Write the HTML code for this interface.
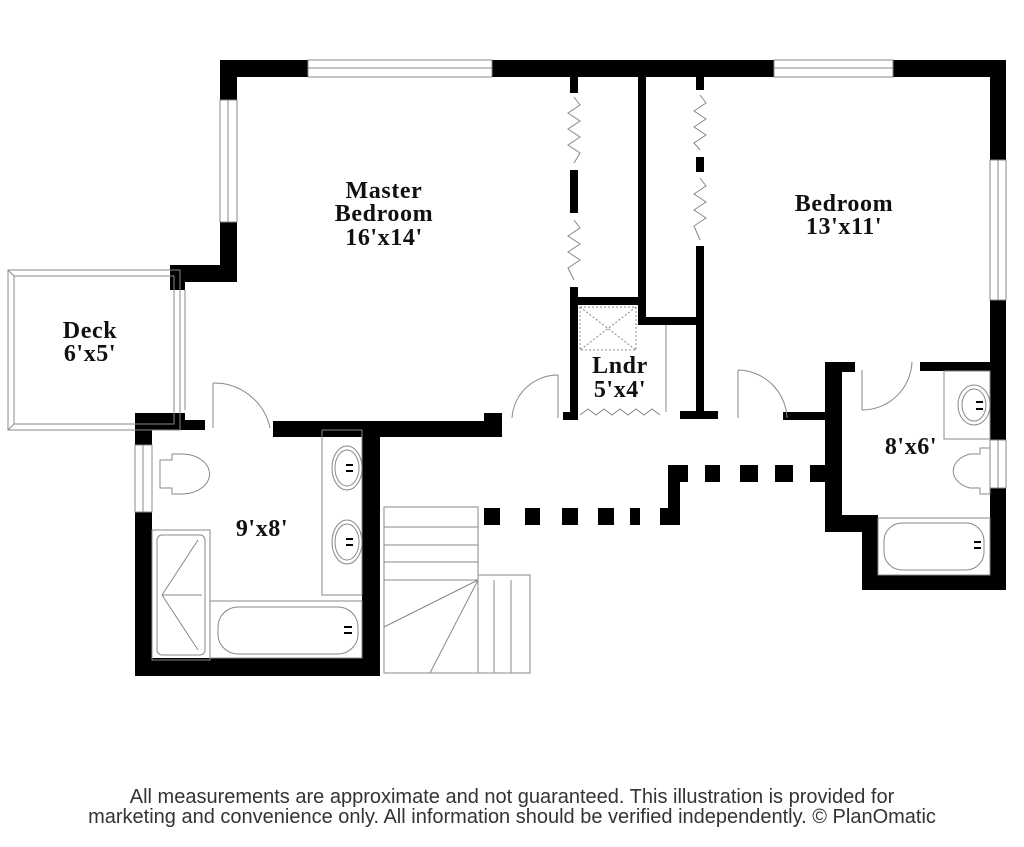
<!DOCTYPE html>
<html><head><meta charset="utf-8"><style>
html,body{margin:0;padding:0;background:#fff;}
svg{display:block}
.t{font-family:"Liberation Serif",serif;font-weight:bold;font-size:24px;letter-spacing:0.6px;fill:#111;text-anchor:middle}
.f{font-family:"Liberation Sans",sans-serif;font-size:20px;fill:#333;text-anchor:middle}
</style></head><body>
<svg width="1024" height="847" viewBox="0 0 1024 847" xmlns="http://www.w3.org/2000/svg">
<g fill="#000">
<rect x="220" y="60" width="88" height="17"/>
<rect x="492" y="60" width="282" height="17"/>
<rect x="893" y="60" width="113" height="17"/>
<rect x="990" y="60" width="16" height="100"/>
<rect x="990" y="300" width="16" height="140"/>
<rect x="990" y="488" width="16" height="102"/>
<rect x="220" y="60" width="17" height="40"/>
<rect x="220" y="222" width="17" height="60"/>
<rect x="170" y="265" width="67" height="17"/>
<rect x="170" y="265" width="15" height="25"/>
<rect x="135" y="413" width="50" height="17"/>
<rect x="135" y="420" width="70" height="10"/>
<rect x="135" y="413" width="17" height="32"/>
<rect x="135" y="512" width="17" height="164"/>
<rect x="135" y="658" width="245" height="18"/>
<rect x="362" y="421" width="18" height="255"/>
<rect x="273" y="421" width="227" height="16"/>
<rect x="484" y="413" width="18" height="24"/>
<rect x="570" y="77" width="8" height="16"/>
<rect x="570" y="170" width="8" height="43"/>
<rect x="570" y="287" width="8" height="133"/>
<rect x="638" y="77" width="8" height="248"/>
<rect x="696" y="77" width="8" height="13"/>
<rect x="696" y="157" width="8" height="15"/>
<rect x="696" y="246" width="8" height="172"/>
<rect x="570" y="297" width="72" height="8"/>
<rect x="646" y="317" width="58" height="8"/>
<rect x="563" y="412" width="15" height="8"/>
<rect x="680" y="411" width="38" height="8"/>
<rect x="484" y="508" width="16" height="17"/>
<rect x="525" y="508" width="15" height="17"/>
<rect x="562" y="508" width="16" height="17"/>
<rect x="598" y="508" width="16" height="17"/>
<rect x="630" y="508" width="10" height="17"/>
<rect x="660" y="508" width="18" height="17"/>
<rect x="668" y="465" width="12" height="60"/>
<rect x="668" y="465" width="20" height="17"/>
<rect x="705" y="465" width="15" height="17"/>
<rect x="740" y="465" width="18" height="17"/>
<rect x="775" y="465" width="18" height="17"/>
<rect x="810" y="465" width="16" height="17"/>
<rect x="783" y="412" width="52" height="8"/>
<rect x="825" y="362" width="17" height="170"/>
<rect x="825" y="362" width="30" height="10"/>
<rect x="920" y="362" width="70" height="9"/>
<rect x="825" y="515" width="53" height="17"/>
<rect x="862" y="515" width="16" height="75"/>
<rect x="862" y="575" width="144" height="15"/>
</g>
<g fill="none" stroke="#888" stroke-width="1">
<rect x="308" y="60" width="184" height="17"/><line x1="308" y1="68" x2="492" y2="68"/>
<rect x="774" y="60" width="119" height="17"/><line x1="774" y1="68" x2="893" y2="68"/>
<rect x="220" y="100" width="17" height="122"/><line x1="228" y1="100" x2="228" y2="222"/>
<rect x="990" y="160" width="16" height="140"/><line x1="998" y1="160" x2="998" y2="300"/>
<rect x="990" y="440" width="16" height="48"/><line x1="998" y1="440" x2="998" y2="488"/>
<rect x="135" y="445" width="17" height="67"/><line x1="143" y1="445" x2="143" y2="512"/>
<rect x="8" y="270" width="172" height="160"/>
<rect x="14" y="276" width="160" height="148"/>
<line x1="8" y1="270" x2="14" y2="276"/><line x1="8" y1="430" x2="14" y2="424"/>
<line x1="180" y1="290" x2="180" y2="410"/><line x1="185" y1="290" x2="185" y2="410"/>
<path d="M213 383 A57 57 0 0 1 270 428"/><line x1="213" y1="383" x2="213" y2="428"/>
<path d="M558 375 A46 46 0 0 0 512 418"/><line x1="558" y1="375" x2="558" y2="418"/>
<path d="M738 370 A50 50 0 0 1 787 418"/><line x1="738" y1="370" x2="738" y2="418"/>
<path d="M862 410 A50 50 0 0 0 912 362"/><line x1="862" y1="370" x2="862" y2="410"/>
<polyline points="574,97 580,105 568,113 580,121 568,129 580,137 568,145 580,153 574,163"/>
<polyline points="574,220 580,228 568,236 580,244 568,252 580,260 568,268 574,280"/>
<polyline points="700,95 706,103 694,111 706,119 694,127 706,135 694,143 700,150"/>
<polyline points="700,178 706,186 694,194 706,202 694,210 706,218 694,226 700,240"/>
<polyline points="580,415 588,409 596,415 604,409 612,415 620,409 628,415 636,409 644,415 652,409 660,415"/>
<rect x="580" y="307" width="56" height="43" stroke-dasharray="2,2"/>
<line x1="580" y1="307" x2="636" y2="350" stroke-dasharray="2,2"/><line x1="636" y1="307" x2="580" y2="350" stroke-dasharray="2,2"/>
<line x1="666" y1="325" x2="666" y2="412"/>
<rect x="322" y="430" width="40" height="165"/>
<ellipse cx="347" cy="468" rx="15" ry="22"/><ellipse cx="347" cy="468" rx="12" ry="18"/>
<ellipse cx="347" cy="542" rx="15" ry="22"/><ellipse cx="347" cy="542" rx="12" ry="18"/>
<path d="M160 460 h12 v-6 h10 a22 16 0 0 1 0 40 h-10 v-6 h-12 z"/>
<rect x="152" y="530" width="58" height="130"/><rect x="157" y="535" width="48" height="120" rx="5"/>
<line x1="162" y1="595" x2="198" y2="540"/><line x1="162" y1="595" x2="198" y2="650"/><line x1="162" y1="595" x2="202" y2="595"/>
<rect x="210" y="601" width="152" height="57"/><rect x="218" y="607" width="140" height="47" rx="20"/>
<rect x="384" y="507" width="94" height="166"/>
<line x1="384" y1="527" x2="478" y2="527"/><line x1="384" y1="545" x2="478" y2="545"/>
<line x1="384" y1="562" x2="478" y2="562"/><line x1="384" y1="580" x2="478" y2="580"/>
<line x1="384" y1="627" x2="478" y2="580"/><line x1="430" y1="673" x2="478" y2="580"/>
<rect x="478" y="575" width="52" height="98"/>
<line x1="494" y1="580" x2="494" y2="673"/><line x1="511" y1="580" x2="511" y2="673"/>
<rect x="944" y="371" width="46" height="68"/>
<ellipse cx="974" cy="405" rx="16" ry="20"/><ellipse cx="974" cy="405" rx="12" ry="16"/>
<path d="M990 448 h-10 v6 h-10 a25 18 0 0 0 0 34 h10 v6 h10 z"/>
<rect x="878" y="518" width="112" height="57"/><rect x="884" y="523" width="100" height="47" rx="18"/>
</g>
<g fill="#000">
<rect x="346" y="464" width="7" height="2"/><rect x="346" y="470" width="7" height="2"/>
<rect x="346" y="538" width="7" height="2"/><rect x="346" y="544" width="7" height="2"/>
<rect x="344" y="626" width="8" height="2"/><rect x="344" y="632" width="8" height="2"/>
<rect x="976" y="401" width="7" height="2"/><rect x="976" y="408" width="7" height="2"/>
<rect x="974" y="541" width="7" height="2"/><rect x="974" y="547" width="7" height="2"/>
</g>
<text class="t" x="384" y="198">Master</text>
<text class="t" x="384" y="221">Bedroom</text>
<text class="t" x="384" y="245">16'x14'</text>
<text class="t" x="844" y="211">Bedroom</text>
<text class="t" x="844" y="234">13'x11'</text>
<text class="t" x="90" y="338">Deck</text>
<text class="t" x="90" y="361">6'x5'</text>
<text class="t" x="620" y="373">Lndr</text>
<text class="t" x="620" y="397">5'x4'</text>
<text class="t" x="262" y="536">9'x8'</text>
<text class="t" x="911" y="454">8'x6'</text>
<text class="f" x="512" y="803">All measurements are approximate and not guaranteed. This illustration is provided for</text>
<text class="f" x="512" y="823">marketing and convenience only. All information should be verified independently. © PlanOmatic</text>
</svg>
</body></html>
